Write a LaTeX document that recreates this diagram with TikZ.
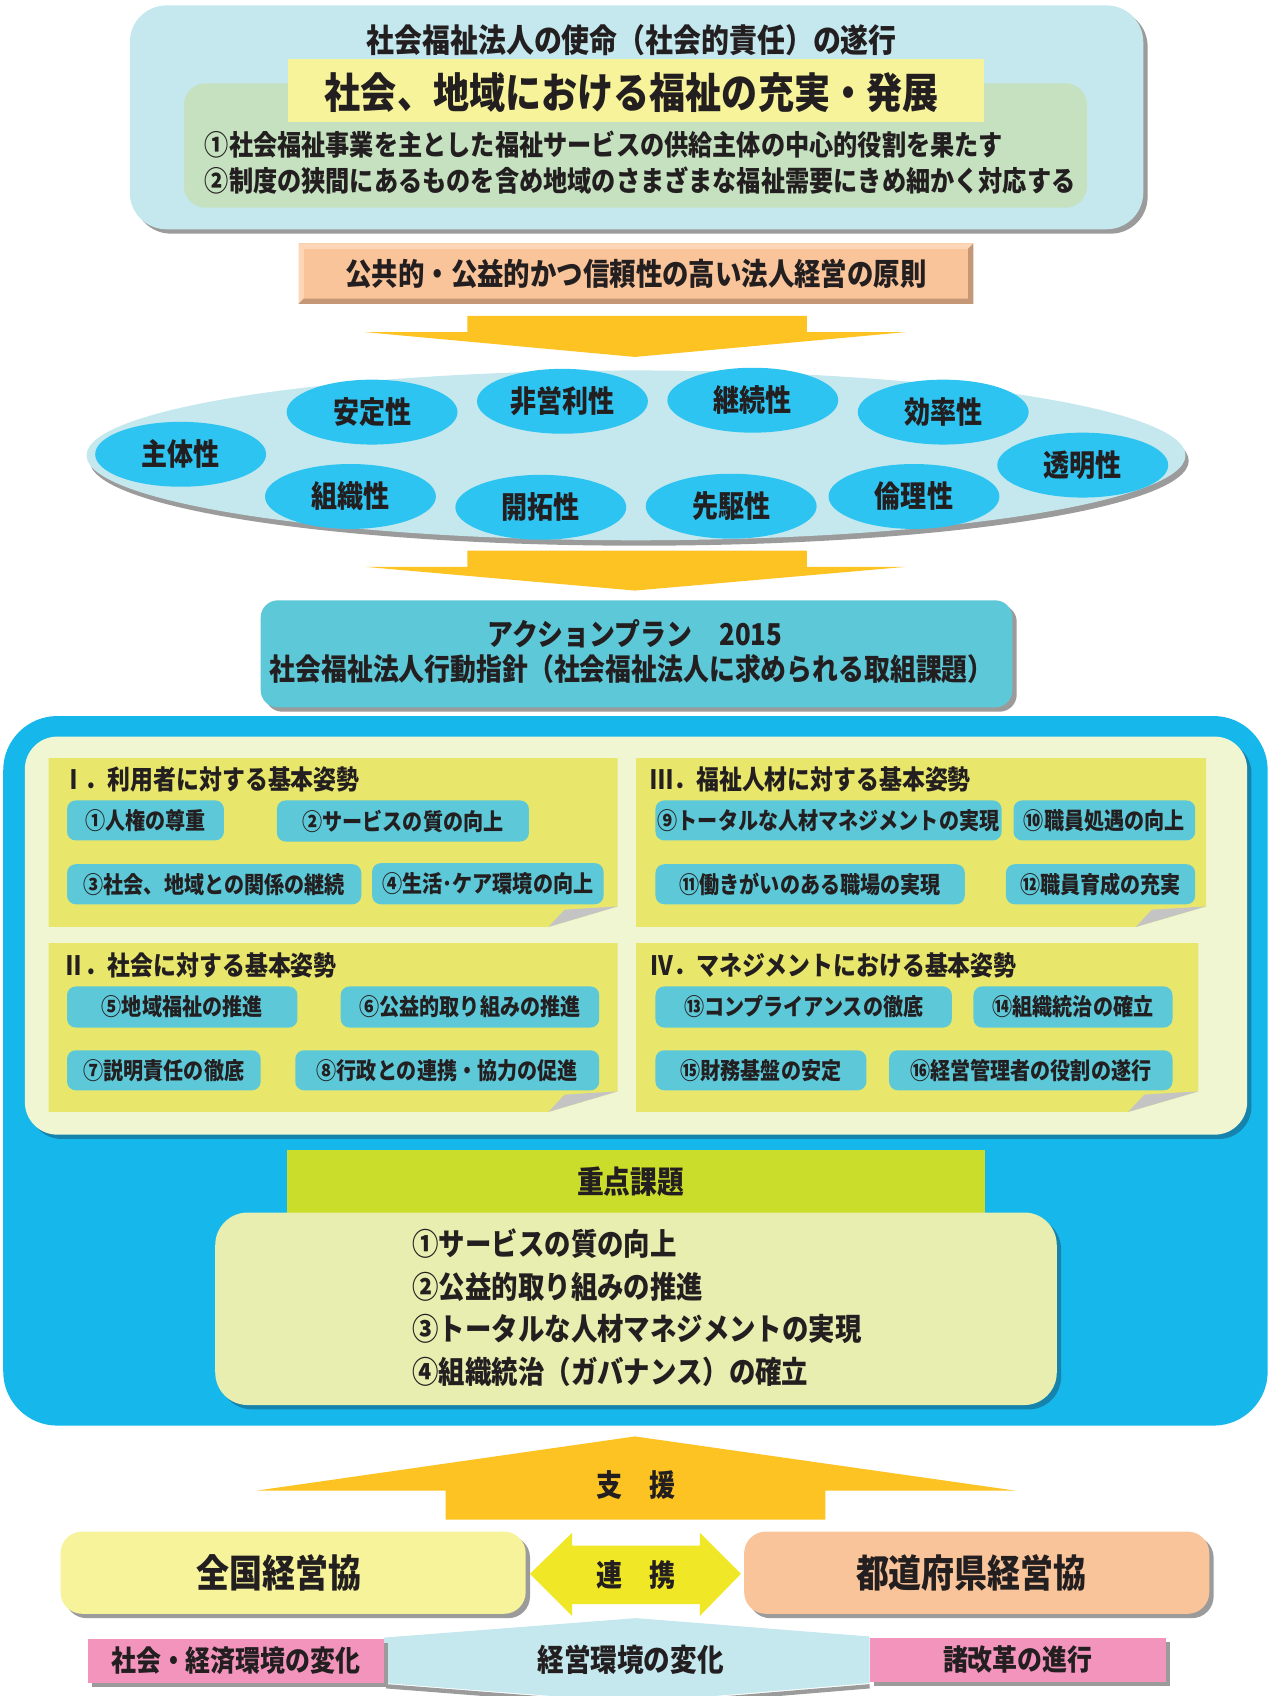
\documentclass[tikz,border=0pt]{standalone}
\usepackage{fontspec}
\setmainfont{Noto Sans CJK JP}[FakeStretch=0.86]
\usetikzlibrary{shapes.geometric,fit,shadows}
\definecolor{txt}{HTML}{231F20}
\definecolor{lblue}{HTML}{C4E8EE}
\definecolor{lgreen}{HTML}{C5E1C0}
\definecolor{pyellow}{HTML}{F6F39A}
\definecolor{peach}{HTML}{F9C499}
\definecolor{peachd}{HTML}{C49877}
\definecolor{peachl}{HTML}{FCD6B6}
\definecolor{aorange}{HTML}{FCC323}
\definecolor{ecyan}{HTML}{2DC4F1}
\definecolor{itemc}{HTML}{5DC8D7}
\definecolor{bblue}{HTML}{16B8EC}
\definecolor{dblue}{HTML}{1583AC}
\definecolor{cream}{HTML}{F0F5D2}
\definecolor{pyel}{HTML}{E8E76C}
\definecolor{foldc}{HTML}{C4C4C4}
\definecolor{ygreen}{HTML}{CBDD2B}
\definecolor{palebox}{HTML}{E8EEB0}
\definecolor{yarrow}{HTML}{F0E826}
\definecolor{pinkc}{HTML}{F294BC}
\definecolor{shgray}{HTML}{9B9B9B}
\newcommand\itm[3]{\node[itembox, fit={#1}] (#2) {};\node[fs=10.8] (#2t) at (#2.center) {#3};}
\begin{document}
\begin{tikzpicture}[x=0.5pt,y=-0.5pt,
  every node/.style={inner sep=0pt, text=txt, font=\bfseries},
  fs/.style={font=\fontsize{#1pt}{#1pt}\selectfont\bfseries},
  gshadow/.style={drop shadow={shadow xshift=2pt,shadow yshift=-2pt,fill=shgray,opacity=1}},
  bshadow/.style={drop shadow={shadow xshift=2pt,shadow yshift=-2pt,fill=dblue,opacity=1}},
  trait/.style={ellipse, fill=ecyan, minimum width=79pt, minimum height=30pt, fs=14},
  itembox/.style={fill=itemc, rounded corners=4pt},
  panel/.style={fill=pyel},
  foldp/.style={fill=foldc}]
\useasboundingbox (0,0) rectangle (1173,1568);
\fill[white] (0,0) rectangle (1173,1568);

% ---- top mission box
\node[fit={(120,5)(1057,212)}, fill=lblue, rounded corners=17pt, gshadow] (top) {};
\node[fit={(170,77)(1005,192)}, fill=lgreen, rounded corners=10pt] (topgreen) {};
\node[fit={(266,55)(910,113)}, fill=pyellow] (topyellow) {};
\node[fs=15] (title) at (584,37) {社会福祉法人の使命（社会的責任）の遂行};
\node[fs=19.4] (mission) at (584,86) {社会、地域における福祉の充実・発展};
\node[fs=13, anchor=west] (m1) at (189,134) {①社会福祉事業を主とした福祉サービスの供給主体の中心的役割を果たす};
\node[fs=13, anchor=west] (m2) at (189,167) {②制度の狭間にあるものを含め地域のさまざまな福祉需要にきめ細かく対応する};

% ---- principle box (bevelled)
\node[fit={(276,225)(900,281)}, fill=peach] (principle) {};
\fill[peachl] (276,225) -- (900,225) -- (895,230) -- (281,230) -- cycle;
\fill[peachl] (276,225) -- (281,230) -- (281,276) -- (276,281) -- cycle;
\fill[peachd] (276,281) -- (281,276) -- (895,276) -- (900,281) -- cycle;
\fill[peachd] (900,225) -- (900,281) -- (895,276) -- (895,230) -- cycle;
\node[fs=14.2] (principletxt) at (principle.center) {公共的・公益的かつ信頼性の高い法人経営の原則};

% ---- arrow 1
\fill[aorange] (432,292) -- (746,292) -- (746,307) -- (838,307) -- (587,330) -- (337,307) -- (432,307) -- cycle;

% ---- ellipse of traits
\node[ellipse, minimum width=508pt, minimum height=78.5pt, fill=lblue,
  drop shadow={shadow xshift=1.5pt,shadow yshift=-2.5pt,fill=shgray,opacity=1}] (oval) at (588,421) {};
\node[trait] (t1) at (167,420) {主体性};
\node[trait] (t2) at (344,381) {安定性};
\node[trait] (t3) at (520,371) {非営利性};
\node[trait] (t4) at (696,370) {継続性};
\node[trait] (t5) at (872,381) {効率性};
\node[trait] (t6) at (1001,430) {透明性};
\node[trait] (t7) at (324,459) {組織性};
\node[trait] (t8) at (500,469) {開拓性};
\node[trait] (t9) at (676,468) {先駆性};
\node[trait] (t10) at (845,459) {倫理性};

% ---- arrow 2
\fill[aorange] (432,509) -- (746,509) -- (746,524) -- (838,524) -- (587,546) -- (337,524) -- (432,524) -- cycle;

% ---- action plan box
\node[fit={(241,555)(936,654)}, fill=itemc, rounded corners=8pt, gshadow] (plan) {};
\node[fs=13.9] (plan1) at (587,586) {アクションプラン\hspace{0.9em}2015};
\node[fs=13.9] (plan2) at (584,619) {社会福祉法人行動指針（社会福祉法人に求められる取組課題）};

% ---- big blue container
\node[fit={(3,662)(1172,1318)}, fill=bblue, rounded corners=25pt] (container) {};
\node[fit={(23,681)(1153,1049)}, fill=cream, rounded corners=15pt, bshadow] (creampanel) {};

% panels
\path[panel] (45,701) -- (571,701) -- (571,838) -- (507,857) -- (45,857) -- cycle;
\path[foldp] (571,838) -- (507,857) -- (522,841) -- cycle;
\path[panel] (45,872) -- (571,872) -- (571,1009) -- (507,1028) -- (45,1028) -- cycle;
\path[foldp] (571,1009) -- (507,1028) -- (522,1012) -- cycle;
\path[panel] (588,701) -- (1115,701) -- (1115,838) -- (1050,857) -- (588,857) -- cycle;
\path[foldp] (1115,838) -- (1050,857) -- (1065,841) -- cycle;
\path[panel] (588,872) -- (1108,872) -- (1108,1009) -- (1043,1028) -- (588,1028) -- cycle;
\path[foldp] (1108,1009) -- (1043,1028) -- (1058,1012) -- cycle;

\node[fs=12.3, anchor=west] (h1) at (57,721) {Ⅰ．利用者に対する基本姿勢};
\node[fs=12.3, anchor=west] (h2) at (57,893) {Ⅱ．社会に対する基本姿勢};
\node[fs=12.3, anchor=west] (h3) at (601,721) {Ⅲ．福祉人材に対する基本姿勢};
\node[fs=12.3, anchor=west] (h4) at (601,893) {Ⅳ．マネジメントにおける基本姿勢};

\itm{(62,740)(207,777)}{i1}{①人権の尊重}
\itm{(256,740)(489,778)}{i2}{②サービスの質の向上}
\itm{(62,799)(334,836)}{i3}{③社会、地域との関係の継続}
\itm{(344,798)(558,836)}{i4}{④生活･ケア環境の向上}
\itm{(62,912)(275,950)}{i5}{⑤地域福祉の推進}
\itm{(315,912)(554,950)}{i6}{⑥公益的取り組みの推進}
\itm{(62,971)(241,1008)}{i7}{⑦説明責任の徹底}
\itm{(273,971)(554,1008)}{i8}{⑧行政との連携・協力の促進}
\itm{(606,740)(926,777)}{i9}{⑨トータルな人材マネジメントの実現}
\itm{(937,740)(1105,777)}{i10}{⑩職員処遇の向上}
\itm{(606,799)(892,836)}{i11}{⑪働きがいのある職場の実現}
\itm{(930,799)(1105,836)}{i12}{⑫職員育成の充実}
\itm{(606,912)(880,950)}{i13}{⑬コンプライアンスの徹底}
\itm{(900,912)(1084,950)}{i14}{⑭組織統治の確立}
\itm{(606,971)(801,1008)}{i15}{⑮財務基盤の安定}
\itm{(822,971)(1084,1008)}{i16}{⑯経営管理者の役割の遂行}

% ---- priority issues
\node[fit={(265,1063)(911,1122)}, fill=ygreen] (prio) {};
\node[fs=14.4] (priot) at (583,1093) {重点課題};
\node[fit={(199,1121)(977,1299)}, fill=palebox, rounded corners=15pt, bshadow] (priobox) {};
\node[fs=14.2, anchor=west] (p1) at (381,1150) {①サービスの質の向上};
\node[fs=14.2, anchor=west] (p2) at (381,1190) {②公益的取り組みの推進};
\node[fs=14.2, anchor=west] (p3) at (381,1229) {③トータルな人材マネジメントの実現};
\node[fs=14.2, anchor=west] (p4) at (381,1268) {④組織統治（ガバナンス）の確立};

% ---- support arrow
\fill[aorange] (412,1405) -- (412,1378) -- (238,1378) -- (587,1328) -- (938,1378) -- (763,1378) -- (763,1405) -- cycle;
\node[fs=14] (support) at (588,1373) {支　援};

% ---- bottom organisations
\node[fit={(56,1416)(486,1492)}, fill=pyellow, rounded corners=10pt, gshadow] (zenkoku) {};
\node[fs=17.7] (zenkokut) at (258,1454) {全国経営協};
\node[fit={(688,1416)(1118,1492)}, fill=peach, rounded corners=10pt, gshadow] (todofuken) {};
\node[fs=17.7] (todofukent) at (898,1454) {都道府県経営協};
\fill[yarrow] (490,1455) -- (529,1417) -- (529,1429) -- (647,1429) -- (647,1417) -- (685,1455) -- (647,1494) -- (647,1483) -- (529,1483) -- (529,1494) -- cycle;
\node[fs=14] (renkei) at (588,1456) {連　携};

% ---- environment
\draw[shgray, line width=2pt] (357,1559) -- (588,1577) -- (804,1559);
\fill[lblue] (355,1514) -- (588,1496) -- (804,1513) -- (804,1556) -- (588,1574) -- (355,1556) -- cycle;
\node[fs=14.3] (env) at (583,1534) {経営環境の変化};
\node[fit={(81,1515)(355,1556)}, fill=pinkc, gshadow] (social) {};
\node[fs=13.4] (socialt) at (social.center) {社会・経済環境の変化};
\node[fit={(804,1514)(1078,1555)}, fill=pinkc, gshadow] (reform) {};
\node[fs=13.4] (reformt) at (reform.center) {諸改革の進行};
\end{tikzpicture}
\end{document}
